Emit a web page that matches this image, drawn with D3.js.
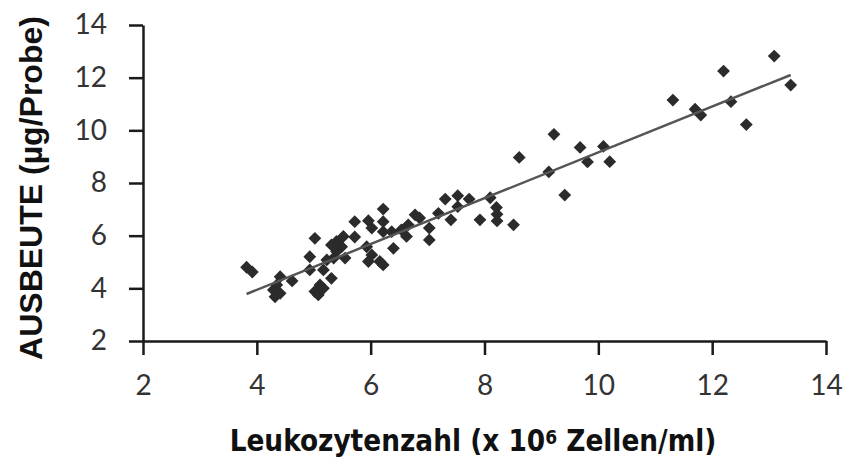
<!DOCTYPE html>
<html>
<head>
<meta charset="utf-8">
<script src="https://cdn.jsdelivr.net/npm/d3@7"></script>
<style>
  body { margin: 0; background: #fff; }
  svg { display: block; }
</style>
</head>
<body>
<svg width="846" height="459"></svg>
<script>
// Leukozytenzahl (x 10^6 Zellen/ml) vs Ausbeute (µg/Probe)
const leukozyten = [
    3.82, 3.92, 4.41, 4.62, 4.35, 4.29, 4.41, 4.32,
    5.02, 4.93, 5.23, 5.17, 4.93, 5.31, 5.11, 5.02, 5.17, 5.08,
    5.40, 5.31, 5.49, 5.40, 5.35, 5.55, 5.52,
    5.72, 5.96, 6.02, 6.22, 6.22, 6.22, 5.72, 5.93, 6.02, 5.96, 6.16, 6.22,
    6.37, 6.54, 6.66, 6.78, 6.86, 6.63, 6.40, 7.03, 7.03, 7.19,
    7.31, 7.53, 7.73, 7.53, 7.41, 7.92, 8.10, 8.21, 8.22, 8.22, 8.51,
    8.61, 9.22, 9.68, 10.09, 9.81, 10.20, 9.13, 9.41,
    11.31, 12.20, 13.09, 13.38, 11.70, 11.80, 12.33, 12.60
];
const ausbeute = [
    4.80, 4.62, 4.44, 4.28, 4.13, 3.94, 3.81, 3.68,
    5.90, 5.20, 5.08, 4.70, 4.70, 4.38, 4.13, 3.88, 4.00, 3.75,
    5.78, 5.65, 5.58, 5.40, 5.15, 5.15, 5.97,
    6.53, 6.57, 6.29, 6.53, 6.15, 7.01, 5.95, 5.58, 5.27, 5.02, 5.02, 4.89,
    6.15, 6.22, 6.41, 6.79, 6.67, 5.97, 5.52, 5.84, 6.29, 6.85,
    7.39, 7.52, 7.39, 7.10, 6.60, 6.60, 7.44, 7.07, 6.81, 6.56, 6.41,
    8.97, 9.85, 9.35, 9.39, 8.80, 8.81, 8.42, 7.54,
    11.15, 12.25, 12.82, 11.72, 10.80, 10.58, 11.09, 10.22
];
const xTicks = [2, 4, 6, 8, 10, 12, 14];
const yTicks = [2, 4, 6, 8, 10, 12, 14];

const points = leukozyten.map((v, i) => [v, ausbeute[i]]);

const svg = d3.select('svg');

const x = d3.scaleLinear().domain([2, 14]).range([143, 826]);
const y = d3.scaleLinear().domain([2, 14]).range([341, 25]);

// least squares trend line
const mx = d3.mean(leukozyten), my = d3.mean(ausbeute);
const slope = d3.sum(points, p => (p[0] - mx) * (p[1] - my)) / d3.sum(points, p => (p[0] - mx) ** 2);
const intercept = my - slope * mx;
const xExt = d3.extent(leukozyten);

const yAxis = svg.append('g')
    .attr('transform', `translate(${x(2)},0)`)
    .call(d3.axisLeft(y).tickValues(yTicks).tickSize(14).tickSizeOuter(0).tickPadding(22));

const xAxis = svg.append('g')
    .attr('transform', `translate(0,${y(2)})`)
    .call(d3.axisBottom(x).tickValues(xTicks).tickSize(14).tickSizeOuter(0).tickPadding(20));

[xAxis, yAxis].forEach(g => {
    g.selectAll('.domain, line').attr('stroke', '#1a1a1a').attr('stroke-width', 2.5);
    g.selectAll('text')
        .attr('fill', '#333')
        .style('font-family', 'Lato, "Open Sans", sans-serif')
        .style('font-weight', 400)
        .style('font-size', '28px');
});

svg.append('g')
    .selectAll('path')
    .data(points).enter().append('path')
    .attr('d', d3.symbol().type(d3.symbolSquare).size(82))
    .attr('transform', d => `translate(${x(d[0])},${y(d[1])}) rotate(45)`)
    .attr('fill', '#2b2b2b');

svg.append('line')
    .attr('x1', x(xExt[0])).attr('y1', y(slope * xExt[0] + intercept))
    .attr('x2', x(xExt[1])).attr('y2', y(slope * xExt[1] + intercept))
    .attr('stroke', '#555')
    .attr('stroke-width', 2.5);

svg.append('text')
    .attr('transform', 'translate(42,188) rotate(-90)')
    .attr('text-anchor', 'middle')
    .style('font-family', '"Liberation Sans", Arial, sans-serif')
    .style('font-weight', 'bold')
    .style('font-size', '32px')
    .attr('fill', '#111')
    .text('AUSBEUTE (µg/Probe)');

const xt = svg.append('text')
    .attr('x', 473)
    .attr('y', 451)
    .attr('text-anchor', 'middle')
    .style('font-family', '"Liberation Sans Narrow", "DejaVu Sans Condensed", sans-serif')
    .style('font-weight', 'bold')
    .style('font-size', '32px')
    .attr('fill', '#111');
xt.append('tspan').text('Leukozytenzahl (x 10');
xt.append('tspan').style('baseline-shift', '38%').style('font-size', '19px').text('6');
xt.append('tspan').text(' Zellen/ml)');

// fit the title to the width it has in the picture
const w = xt.node().getBBox().width;
if (w > 0) xt.style('font-size', (32 * 486 / w) + 'px');
</script>
</body>
</html>
